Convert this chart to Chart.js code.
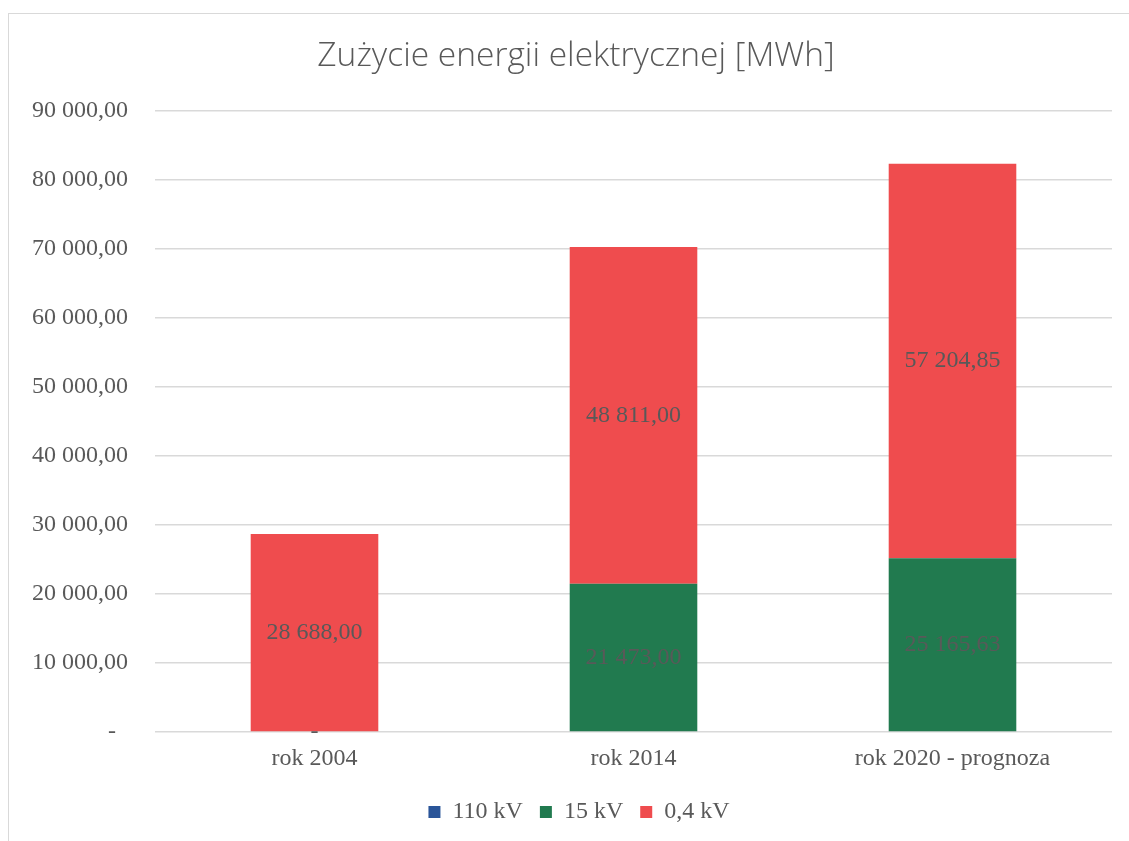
<!DOCTYPE html>
<html>
<head>
<meta charset="utf-8">
<title>Zużycie energii elektrycznej</title>
<script src="https://cdn.jsdelivr.net/npm/chart.js@4/dist/chart.umd.min.js"></script>
<style>
    html, body { margin: 0; padding: 0; background: #fff; }
    #wrap { width: 1129px; height: 841px; }
</style>
</head>
<body>
<div id="wrap"><canvas id="chartCanvas" width="1129" height="841"></canvas></div>
<script>
const categories = ["rok 2004", "rok 2014", "rok 2020 - prognoza"]
const seriesNames = ["110 kV", "15 kV", "0,4 kV"]
const values110 = [0, 0, 0]
const values15 = [0, 21473.00, 25165.63]
const values04 = [28688.00, 48811.00, 57204.85]
const yTicks = [0, 10000, 20000, 30000, 40000, 50000, 60000, 70000, 80000, 90000]

const textColor = "#595959"
const serif = "'Liberation Serif', 'Times New Roman', serif"

// format jak w Excelu (księgowy, pl): "28 688,00", zero jako "-"
const fmt = v => {
    if (!v) return "-"
    const [int, dec] = v.toFixed(2).split(".")
    return int.replace(/\B(?=(\d{3})+(?!\d))/g, " ") + "," + dec
}

const frame = {
    id: "frame",
    beforeDraw(chart){
        const ctx = chart.ctx
        ctx.save()
        ctx.fillStyle = "#fff"
        ctx.fillRect(0, 0, chart.width, chart.height)
        ctx.strokeStyle = "#d9d9d9"
        ctx.lineWidth = 1
        ctx.strokeRect(8.5, 13.5, chart.width + 10, chart.height + 10)
        ctx.restore()
    },
    afterLayout(chart){
        // legenda i tytuł w Excelu stoją trochę na prawo od środka
        chart.legend.left += 23
        chart.legend.right += 23
        chart.titleBlock.left += 20
        chart.titleBlock.right += 20
    }
}

const valueLabels = {
    id: "valueLabels",
    afterDatasetsDraw(chart){
        const ctx = chart.ctx
        ctx.save()
        ctx.font = "24px " + serif
        ctx.fillStyle = textColor
        ctx.textAlign = "center"
        ctx.textBaseline = "middle"
        chart.data.datasets.forEach((ds, i)=>{
            if(!ds.showLabels) return
            const meta = chart.getDatasetMeta(i)
            meta.data.forEach((bar, j)=>{
                const v = ds.data[j]
                if(v === null || v === undefined) return
                ctx.fillText(fmt(v), bar.x, (bar.y + bar.base) / 2)
            })
        })
        ctx.restore()
    }
}

new Chart(document.querySelector("#chartCanvas"), {
    type: "bar",
    data: {
        labels: categories,
        datasets: [
            { label: seriesNames[0], data: values110, backgroundColor: "#2a5599", showLabels: false },
            { label: seriesNames[1], data: values15, backgroundColor: "#217a4f", showLabels: true },
            { label: seriesNames[2], data: values04, backgroundColor: "#ef4c4e", showLabels: true }
        ]
    },
    options: {
        responsive: false,
        animation: false,
        layout: { padding: { left: 0, right: 17, top: 0, bottom: 7 } },
        datasets: {
            bar: { categoryPercentage: 1, barPercentage: 0.4 }
        },
        scales: {
            x: {
                stacked: true,
                grid: { display: false, drawTicks: false },
                border: { display: false },
                ticks: { color: textColor, font: { family: serif, size: 24 }, padding: 12.5 },
                afterFit: s => { s.height = 51 }
            },
            y: {
                stacked: true,
                min: 0,
                max: 90000,
                afterBuildTicks: s => { s.ticks = yTicks.map(v=>({value: v})) },
                grid: { color: "#d9d9d9", lineWidth: 1.4, drawTicks: false },
                border: { display: false },
                ticks: {
                    color: textColor,
                    font: { family: serif, size: 24 },
                    padding: 27,
                    callback: v => v === 0 ? "-\u00a0\u00a0" : fmt(v)
                },
                afterFit: s => { s.width = 155 }
            }
        },
        plugins: {
            title: {
                display: true,
                text: "Zużycie energii elektrycznej [MWh]",
                color: textColor,
                font: { family: "'Open Sans'", size: 33.5, weight: 300 },
                padding: { top: 36, bottom: 34.8 }
            },
            legend: {
                position: "bottom",
                labels: {
                    color: textColor,
                    font: { family: serif, size: 24 },
                    boxWidth: 12,
                    boxHeight: 12,
                    padding: 17
                }
            },
            tooltip: { enabled: false }
        }
    },
    plugins: [frame, valueLabels]
})
</script>
</body>
</html>
